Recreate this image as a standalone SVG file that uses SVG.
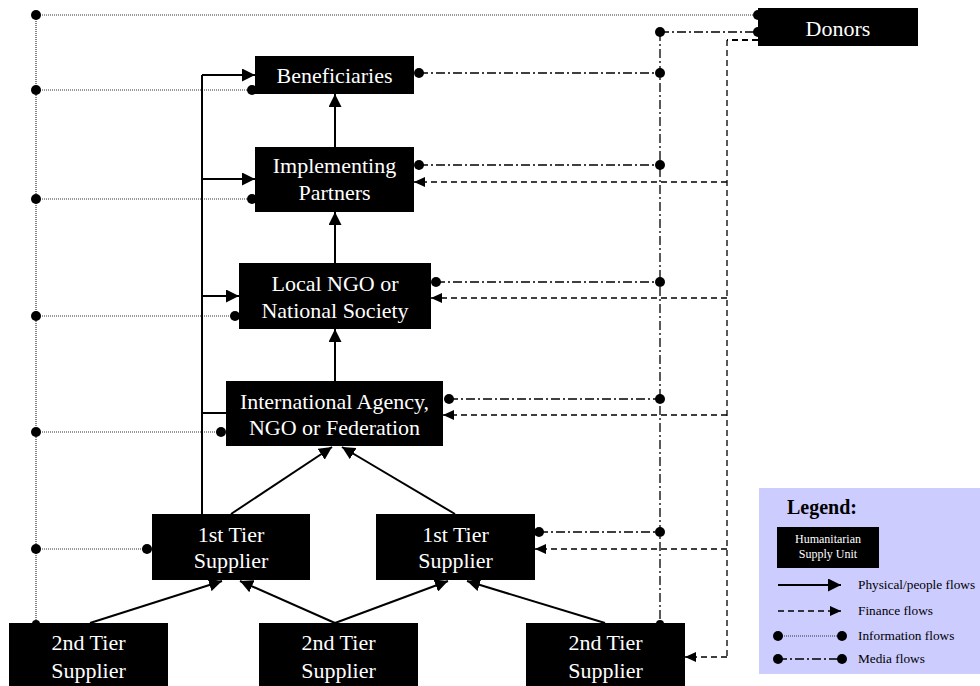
<svg xmlns="http://www.w3.org/2000/svg" width="980" height="686" viewBox="0 0 980 686">
<style>
.box{fill:#000;}
.t{font-family:"Liberation Serif","Times New Roman",serif;font-size:22px;fill:#fff;text-anchor:middle;}
.phys{stroke:#000;stroke-width:2;fill:none;}
.fin{stroke:#000;stroke-width:1.3;stroke-dasharray:6 4;fill:none;}
.info{stroke:#333;stroke-width:1.2;stroke-dasharray:1 1;fill:none;}
.media{stroke:#000;stroke-width:1.3;stroke-dasharray:9 3 2 3;fill:none;}
.dot{fill:#000;}
.lt{font-family:"Liberation Serif","Times New Roman",serif;font-size:13.3px;fill:#000;}
.ls{font-family:"Liberation Serif","Times New Roman",serif;font-size:12px;fill:#fff;text-anchor:middle;}
</style>
<defs>
<marker id="ap" markerUnits="userSpaceOnUse" markerWidth="13" markerHeight="13" refX="13" refY="6.5" orient="auto"><path d="M0,0 L13,6.5 L0,13 z" fill="#000"/></marker>
<marker id="af" markerUnits="userSpaceOnUse" markerWidth="11" markerHeight="10" refX="11" refY="5" orient="auto"><path d="M0,0 L11,5 L0,10 z" fill="#000"/></marker>
</defs>
<rect width="980" height="686" fill="#fff"/>
<g id="connectors">
<!-- information flows -->
<path class="info" d="M36,15 H758 M36,15 V623 M36,90 H252 M36,199 H252 M36,316 H235 M36,432 H221 M36,549 H147"/>
<g class="dot">
<circle cx="36" cy="15" r="5"/><circle cx="36" cy="90" r="5"/><circle cx="36" cy="199" r="5"/><circle cx="36" cy="316" r="5"/><circle cx="36" cy="432" r="5"/><circle cx="36" cy="549" r="5"/><circle cx="36" cy="624" r="4"/>
<circle cx="252" cy="90" r="5"/><circle cx="252" cy="199" r="5"/><circle cx="235" cy="316" r="5"/><circle cx="221" cy="432" r="5"/><circle cx="147" cy="549" r="5"/>
<circle cx="758" cy="15" r="5"/>
</g>
<!-- media flows -->
<path class="media" d="M660,32 H758 M660,32 V623 M419,73 H660 M419,165 H660 M436,282 H660 M449,399 H660 M539,532 H660"/>
<g class="dot">
<circle cx="660" cy="32" r="5"/><circle cx="758" cy="32" r="5"/>
<circle cx="419" cy="73" r="5"/><circle cx="660" cy="73" r="5"/>
<circle cx="419" cy="165" r="5"/><circle cx="660" cy="165" r="5"/>
<circle cx="436" cy="282" r="5"/><circle cx="660" cy="282" r="5"/>
<circle cx="449" cy="399" r="5"/><circle cx="660" cy="399" r="5"/>
<circle cx="539" cy="532" r="5"/><circle cx="660" cy="532" r="5"/>
<circle cx="660" cy="624" r="4"/>
</g>
<!-- finance flows -->
<path class="fin" d="M758,40 H727" style="stroke-width:2"/>
<path class="fin" d="M727,40 V657"/>
<path class="fin" d="M727,182 H414" marker-end="url(#af)"/>
<path class="fin" d="M727,298 H431" marker-end="url(#af)"/>
<path class="fin" d="M727,415 H443" marker-end="url(#af)"/>
<path class="fin" d="M727,549 H535" marker-end="url(#af)"/>
<path class="fin" d="M727,657 H685" marker-end="url(#af)"/>
<!-- physical flows -->
<path class="phys" d="M202,514 V75 M202,413 H226"/>
<path class="phys" d="M202,75 H255" marker-end="url(#ap)"/>
<path class="phys" d="M202,179 H255" marker-end="url(#ap)"/>
<path class="phys" d="M202,296 H239" marker-end="url(#ap)"/>
<path class="phys" d="M335,147 V94" marker-end="url(#ap)"/>
<path class="phys" d="M335,263 V212" marker-end="url(#ap)"/>
<path class="phys" d="M335,381 V329" marker-end="url(#ap)"/>
<path class="phys" d="M231,514 L332,447" marker-end="url(#ap)"/>
<path class="phys" d="M455,514 L342,447" marker-end="url(#ap)"/>
<path class="phys" d="M90,623 L222,581" marker-end="url(#ap)"/>
<path class="phys" d="M335,623 L240,581" marker-end="url(#ap)"/>
<path class="phys" d="M335,623 L448,581" marker-end="url(#ap)"/>
<path class="phys" d="M605,623 L467,581" marker-end="url(#ap)"/>
</g>
<g id="donors"><rect class="box" x="758" y="8" width="160" height="38"/><text class="t" x="838" y="36">Donors</text></g>
<g id="beneficiaries"><rect class="box" x="255" y="56" width="159" height="38"/><text class="t" x="334.5" y="83">Beneficiaries</text></g>
<g id="implementing-partners"><rect class="box" x="255" y="147" width="159" height="65"/><text class="t" x="334.5" y="173">Implementing</text><text class="t" x="334.5" y="200">Partners</text></g>
<g id="local-ngo"><rect class="box" x="239" y="263" width="192" height="66"/><text class="t" x="335" y="291">Local NGO or</text><text class="t" x="335" y="318">National Society</text></g>
<g id="international-agency"><rect class="box" x="226" y="381" width="217" height="65"/><text class="t" x="334.5" y="409">International Agency,</text><text class="t" x="334.5" y="435">NGO or Federation</text></g>
<g id="tier1-left"><rect class="box" x="152" y="514" width="158" height="66"/><text class="t" x="231" y="542">1st Tier</text><text class="t" x="231" y="568">Supplier</text></g>
<g id="tier1-right"><rect class="box" x="376" y="514" width="159" height="66"/><text class="t" x="455.5" y="542">1st Tier</text><text class="t" x="455.5" y="568">Supplier</text></g>
<g id="tier2-left"><rect class="box" x="9" y="623" width="159" height="70"/><text class="t" x="88.5" y="650">2nd Tier</text><text class="t" x="88.5" y="678">Supplier</text></g>
<g id="tier2-middle"><rect class="box" x="259" y="623" width="159" height="70"/><text class="t" x="338.5" y="650">2nd Tier</text><text class="t" x="338.5" y="678">Supplier</text></g>
<g id="tier2-right"><rect class="box" x="526" y="623" width="159" height="70"/><text class="t" x="605.5" y="650">2nd Tier</text><text class="t" x="605.5" y="678">Supplier</text></g>
<g id="legend">
<rect x="759" y="488" width="225" height="186" fill="#ccccff"/>
<text x="787" y="514" style="font-family:'Liberation Serif','Times New Roman',serif;font-size:20px;font-weight:bold;fill:#000">Legend:</text>
<rect class="box" x="777" y="527" width="102" height="41"/>
<text class="ls" x="828" y="543">Humanitarian</text>
<text class="ls" x="828" y="558">Supply Unit</text>
<path class="phys" d="M778,585 H841" marker-end="url(#ap)"/>
<path class="fin" d="M778,611 H841" marker-end="url(#af)"/>
<path class="info" d="M778,636 H842"/>
<circle class="dot" cx="778" cy="636" r="5"/><circle class="dot" cx="842" cy="636" r="5"/>
<path class="media" d="M778,659 H842"/>
<circle class="dot" cx="778" cy="659" r="5"/><circle class="dot" cx="842" cy="659" r="5"/>
<text class="lt" x="858" y="589">Physical/people flows</text>
<text class="lt" x="858" y="615">Finance flows</text>
<text class="lt" x="858" y="640">Information flows</text>
<text class="lt" x="858" y="663">Media flows</text>
</g>
</svg>
